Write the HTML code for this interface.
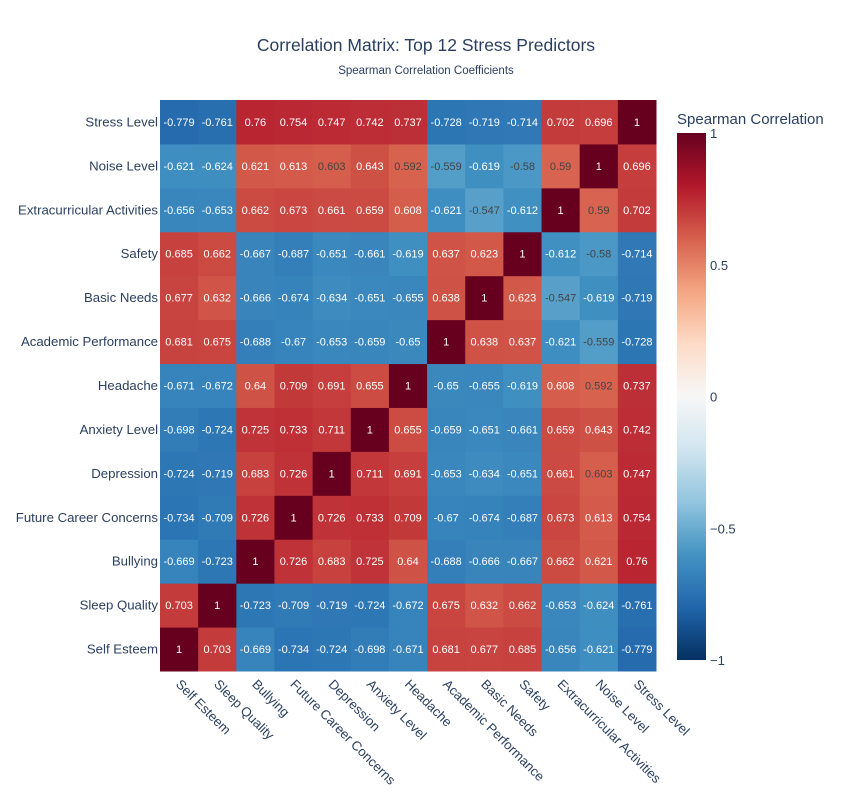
<!DOCTYPE html>
<html><head><meta charset="utf-8"><style>
body{margin:0;background:#fff}
svg{font-family:"Liberation Sans",Arial,sans-serif;display:block}
</style></head><body>
<svg id="chart" width="852" height="800">
<text x="426" y="51" text-anchor="middle" font-size="17.5" fill="#2a3f5f">Correlation Matrix: Top 12 Stress Predictors</text>
<text x="426" y="74" text-anchor="middle" font-size="11.5" fill="#2a3f5f">Spearman Correlation Coefficients</text>
<g id="cells"></g><g id="ylab"></g><g id="xlab"></g>
<defs><linearGradient id="cg" x1="0" y1="1" x2="0" y2="0">
<stop offset="0" stop-color="rgb(5,48,97)"/><stop offset="0.1" stop-color="rgb(33,102,172)"/><stop offset="0.2" stop-color="rgb(67,147,195)"/><stop offset="0.3" stop-color="rgb(146,197,222)"/><stop offset="0.4" stop-color="rgb(209,229,240)"/><stop offset="0.5" stop-color="rgb(247,247,247)"/><stop offset="0.6" stop-color="rgb(253,219,199)"/><stop offset="0.7" stop-color="rgb(244,165,130)"/><stop offset="0.8" stop-color="rgb(214,96,77)"/><stop offset="0.9" stop-color="rgb(178,24,43)"/><stop offset="1" stop-color="rgb(103,0,31)"/>
</linearGradient></defs>
<text x="677" y="124" font-size="15" fill="#2a3f5f">Spearman Correlation</text>
<rect x="677" y="133" width="29" height="527" fill="url(#cg)"/>
<g id="cbt"></g>
</svg>
<script>
const labels=["Self Esteem","Sleep Quality","Bullying","Future Career Concerns","Depression","Anxiety Level","Headache","Academic Performance","Basic Needs","Safety","Extracurricular Activities","Noise Level","Stress Level"];
const row0=[1,0.703,-0.669,-0.734,-0.724,-0.698,-0.671,0.681,0.677,0.685,-0.656,-0.621,-0.779];
const row1=[0.703,1,-0.723,-0.709,-0.719,-0.724,-0.672,0.675,0.632,0.662,-0.653,-0.624,-0.761];
const row2=[-0.669,-0.723,1,0.726,0.683,0.725,0.64,-0.688,-0.666,-0.667,0.662,0.621,0.76];
const row3=[-0.734,-0.709,0.726,1,0.726,0.733,0.709,-0.67,-0.674,-0.687,0.673,0.613,0.754];
const row4=[-0.724,-0.719,0.683,0.726,1,0.711,0.691,-0.653,-0.634,-0.651,0.661,0.603,0.747];
const row5=[-0.698,-0.724,0.725,0.733,0.711,1,0.655,-0.659,-0.651,-0.661,0.659,0.643,0.742];
const row6=[-0.671,-0.672,0.64,0.709,0.691,0.655,1,-0.65,-0.655,-0.619,0.608,0.592,0.737];
const row7=[0.681,0.675,-0.688,-0.67,-0.653,-0.659,-0.65,1,0.638,0.637,-0.621,-0.559,-0.728];
const row8=[0.677,0.632,-0.666,-0.674,-0.634,-0.651,-0.655,0.638,1,0.623,-0.547,-0.619,-0.719];
const row9=[0.685,0.662,-0.667,-0.687,-0.651,-0.661,-0.619,0.637,0.623,1,-0.612,-0.58,-0.714];
const row10=[-0.656,-0.653,0.662,0.673,0.661,0.659,0.608,-0.621,-0.547,-0.612,1,0.59,0.702];
const row11=[-0.621,-0.624,0.621,0.613,0.603,0.643,0.592,-0.559,-0.619,-0.58,0.59,1,0.696];
const row12=[-0.779,-0.761,0.76,0.754,0.747,0.742,0.737,-0.728,-0.719,-0.714,0.702,0.696,1];
const cbTicks=[1,0.5,0,-0.5,-1];
const matrix=[row0,row1,row2,row3,row4,row5,row6,row7,row8,row9,row10,row11,row12];
const NS="http://www.w3.org/2000/svg";
const L=160,R=656,T=100,B=671,n=labels.length;
const cw=(R-L)/n,ch=(B-T)/n;
const xs=i=>L+i*cw, ys=j=>B-(j+1)*ch;
const stops=[[5,48,97],[33,102,172],[67,147,195],[146,197,222],[209,229,240],[247,247,247],[253,219,199],[244,165,130],[214,96,77],[178,24,43],[103,0,31]];
function color(v){let t=(v+1)/2*10;let i=Math.min(9,Math.floor(t));let f=t-i;const a=stops[i],b=stops[i+1];
return `rgb(${a.map((c,k)=>Math.round(c+(b[k]-c)*f)).join(',')})`;}
function mk(tag,attrs,parent){const e=document.createElementNS(NS,tag);for(const k in attrs)e.setAttribute(k,attrs[k]);parent.appendChild(e);return e;}
const cells=document.getElementById('cells');
matrix.forEach((row,j)=>row.forEach((v,i)=>{
 const r=mk('rect',{x:xs(i),y:ys(j),width:cw+0.5,height:ch+0.5,fill:color(v)},cells);
 
 
 const t=mk('text',{x:xs(i)+cw/2,y:ys(j)+ch/2+4,'text-anchor':'middle','font-size':'11',fill:Math.abs(v)<0.606?'#444':'#fff'},cells);
 t.textContent=String(v);
 
 
}));
const yl=document.getElementById('ylab'),xl=document.getElementById('xlab');
labels.forEach((s,j)=>{
 const t=mk('text',{x:L-2,y:ys(j)+ch/2+4.5,'text-anchor':'end','font-size':'13.2',fill:'#2a3f5f'},yl);
 t.textContent=s;
 
 
 const cx=xs(j)+cw/2;
 const u=mk('text',{x:0,y:0,transform:`translate(${cx-4},${B+14}) rotate(45)`,'font-size':'13.2',fill:'#2a3f5f'},xl);
 u.textContent=s;
 
 
});
const cb=document.getElementById('cbt');
cbTicks.forEach(v=>{
 const y=660-(v+1)/2*527;
 const t=mk('text',{x:710,y:y+5,'font-size':'13','fill':'#2a3f5f'},cb);
 t.textContent=v<0?'\u2212'+Math.abs(v):String(v);
 
 
});
</script>
</body></html>
